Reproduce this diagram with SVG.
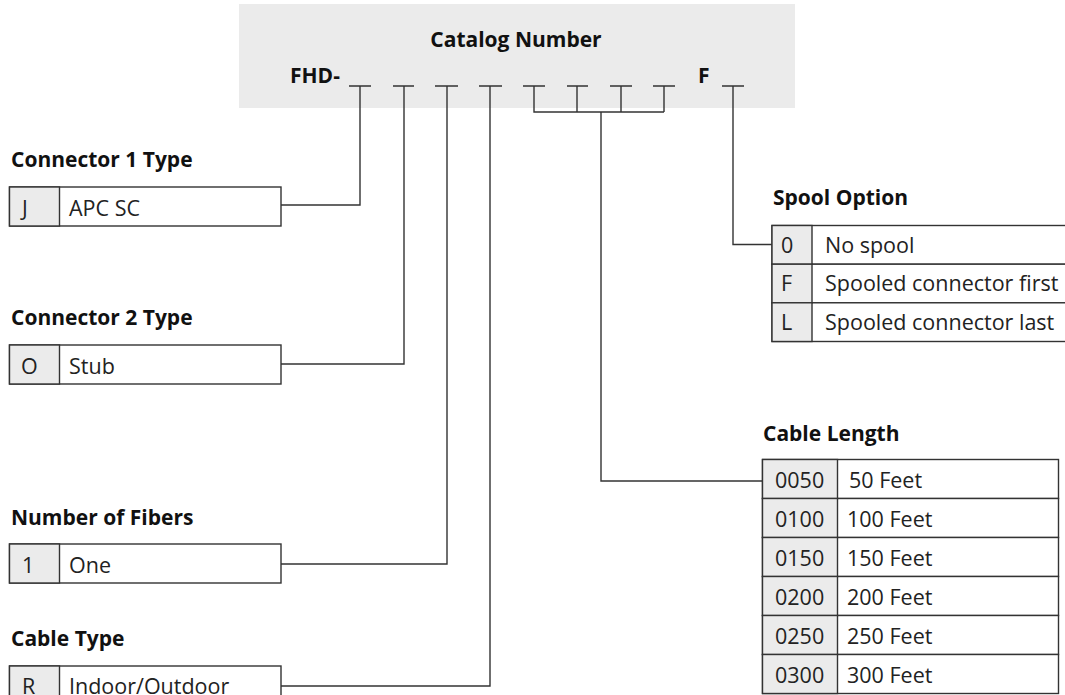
<svg xmlns="http://www.w3.org/2000/svg" width="1065" height="695" viewBox="0 0 1065 695">
<style>
.h{font-family:"Open Sans","Noto Sans","Liberation Sans",sans-serif;font-weight:700;font-size:21px;fill:#111}
.t{font-family:"Open Sans","Noto Sans","Liberation Sans",sans-serif;font-weight:400;font-size:21.5px;fill:#222}
.box{fill:#fff;stroke:#333;stroke-width:1.4}
.code{fill:#ebebeb;stroke:#333;stroke-width:1.4}
.ln{fill:none;stroke:#333;stroke-width:1.4}
.bl{fill:none;stroke:#333;stroke-width:1.3}
</style>
<g id="header">
<rect x="239" y="4" width="556" height="104" fill="#ebebeb"/>
<text class="h" x="516" y="47" text-anchor="middle">Catalog Number</text>
<text class="h" x="290" y="83">FHD-</text>
<text class="h" x="698" y="83">F</text>
<path class="bl" d="M349 86H371M393 86H414M435 86H458M479 86H502M523 86H545M567 86H588M610 86H632M653 86H675M722 86H744"/>
</g>
<g id="connectors">
<path class="ln" d="M360 86V205H281"/>
<path class="ln" d="M404 86V364H281"/>
<path class="ln" d="M447 86V564H281"/>
<path class="ln" d="M490 86V686H281"/>
<path class="ln" d="M534 86V112H664M577 86V112M621 86V112M664 86V112"/>
<path class="ln" d="M601 112V481H762"/>
<path class="ln" d="M733 86V244.5H772"/>
</g>
<g id="connector1">
<text class="h" x="11" y="167">Connector 1 Type</text>
<rect class="box" x="9.5" y="187" width="271.5" height="39"/>
<rect class="code" x="9.5" y="187" width="50" height="39"/>
<text class="t" x="22" y="215.5">J</text>
<text class="t" x="69" y="215.5">APC SC</text>
</g>
<g id="connector2">
<text class="h" x="11" y="325">Connector 2 Type</text>
<rect class="box" x="9.5" y="345" width="271.5" height="39"/>
<rect class="code" x="9.5" y="345" width="50" height="39"/>
<text class="t" x="21" y="373.5">O</text>
<text class="t" x="69" y="373.5">Stub</text>
</g>
<g id="fibers">
<text class="h" x="11" y="525">Number of Fibers</text>
<rect class="box" x="9.5" y="544" width="271.5" height="39"/>
<rect class="code" x="9.5" y="544" width="50" height="39"/>
<text class="t" x="22" y="572.5">1</text>
<text class="t" x="69" y="572.5">One</text>
</g>
<g id="cabletype">
<text class="h" x="11" y="646">Cable Type</text>
<rect class="box" x="9.5" y="666" width="271.5" height="39"/>
<rect class="code" x="9.5" y="666" width="50" height="39"/>
<text class="t" x="22" y="693.5">R</text>
<text class="t" x="69" y="693.5">Indoor/Outdoor</text>
</g>
<g id="spool">
<text class="h" x="773" y="205">Spool Option</text>
<rect class="box" x="772" y="225.5" width="300" height="38.7"/>
<rect class="box" x="772" y="264.2" width="300" height="38.6"/>
<rect class="box" x="772" y="302.8" width="300" height="38.7"/>
<rect class="code" x="772" y="225.5" width="40" height="38.7"/>
<rect class="code" x="772" y="264.2" width="40" height="38.6"/>
<rect class="code" x="772" y="302.8" width="40" height="38.7"/>
<text class="t" x="781" y="252.5">0</text>
<text class="t" x="825" y="252.5">No spool</text>
<text class="t" x="781" y="291">F</text>
<text class="t" x="825" y="291">Spooled connector first</text>
<text class="t" x="781" y="329.5">L</text>
<text class="t" x="825" y="329.5">Spooled connector last</text>
</g>
<g id="cablelength">
<text class="h" x="763" y="441">Cable Length</text>
<rect class="box" x="762.5" y="459.5" width="296" height="39"/>
<rect class="box" x="762.5" y="498.5" width="296" height="39"/>
<rect class="box" x="762.5" y="537.5" width="296" height="39"/>
<rect class="box" x="762.5" y="576.5" width="296" height="39"/>
<rect class="box" x="762.5" y="615.5" width="296" height="39"/>
<rect class="box" x="762.5" y="654.5" width="296" height="39"/>
<rect class="code" x="762.5" y="459.5" width="75" height="39"/>
<rect class="code" x="762.5" y="498.5" width="75" height="39"/>
<rect class="code" x="762.5" y="537.5" width="75" height="39"/>
<rect class="code" x="762.5" y="576.5" width="75" height="39"/>
<rect class="code" x="762.5" y="615.5" width="75" height="39"/>
<rect class="code" x="762.5" y="654.5" width="75" height="39"/>
<text class="t" x="775" y="488">0050</text>
<text class="t" x="849" y="488">50 Feet</text>
<text class="t" x="775" y="527">0100</text>
<text class="t" x="847" y="527">100 Feet</text>
<text class="t" x="775" y="566">0150</text>
<text class="t" x="847" y="566">150 Feet</text>
<text class="t" x="775" y="605">0200</text>
<text class="t" x="847" y="605">200 Feet</text>
<text class="t" x="775" y="644">0250</text>
<text class="t" x="847" y="644">250 Feet</text>
<text class="t" x="775" y="683">0300</text>
<text class="t" x="847" y="683">300 Feet</text>
</g>
</svg>
